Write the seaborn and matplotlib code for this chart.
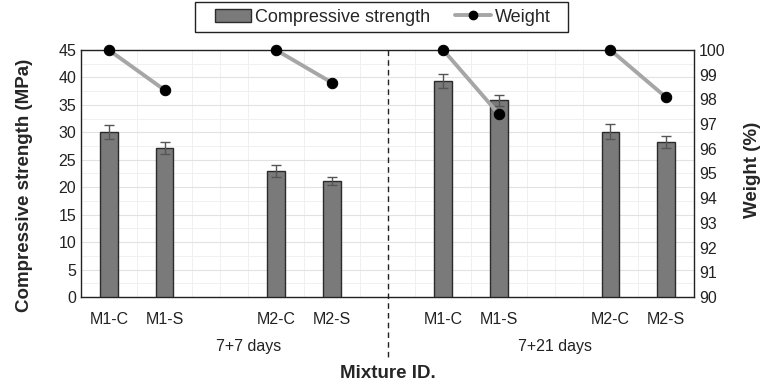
import numpy as np
import pandas as pd
import seaborn as sns
import matplotlib.pyplot as plt
from matplotlib.lines import Line2D
from matplotlib.patches import Patch, Rectangle
from matplotlib.ticker import MultipleLocator

# data
mixtures = ['M1-C', 'M1-S', 'M2-C', 'M2-S', 'M1-C', 'M1-S', 'M2-C', 'M2-S']
slots = [0, 1, 3, 4, 6, 7, 9, 10]
pairs = ['a', 'a', 'b', 'b', 'c', 'c', 'd', 'd']
strength = [30.1, 27.2, 22.9, 21.1, 39.4, 35.8, 30.1, 28.3]
strength_err = [1.3, 1.1, 1.1, 0.7, 1.3, 1.0, 1.4, 1.1]
weight = [100.0, 98.38, 100.0, 98.68, 100.0, 97.4, 100.0, 98.08]
groups = ['7+7 days', '7+21 days']
group_pos = [2.5, 8.0]

df = pd.DataFrame({'slot': slots, 'mix': mixtures, 'pair': pairs,
                   'strength': strength, 'err': strength_err, 'weight': weight})

sns.set_style('white')
plt.rcParams['font.family'] = ['Liberation Sans', 'DejaVu Sans']

fig = plt.figure(figsize=(7.61, 3.87), dpi=100)
ax = fig.add_axes([0.1064, 0.2326, 0.8056, 0.6382])

sns.barplot(data=df, x='slot', y='strength', native_scale=True, width=0.32,
            color='#7a7a7a', edgecolor='#2b2b2b', linewidth=1.0, errorbar=None,
            saturation=1, ax=ax, zorder=3)
ax.errorbar(df['slot'], df['strength'], yerr=df['err'], fmt='none',
            ecolor='#555555', elinewidth=1.0, capsize=3.5, capthick=1.0, zorder=4)

ax.set_xlim(-0.5, 10.5)
ax.set_ylim(0, 45)
ax.yaxis.set_major_locator(MultipleLocator(5))
ax.yaxis.set_minor_locator(MultipleLocator(2.5))
ax.set_xticks(slots)
ax.set_xticklabels(mixtures)
ax.set_xticks(np.arange(-0.5, 10.6, 0.5), minor=True)
ax.grid(which='major', axis='y', color='#e2e2e2', linewidth=0.8, zorder=0)
ax.grid(which='minor', axis='both', color='#f0f0f0', linewidth=0.7, zorder=0)
ax.set_axisbelow(True)
ax.tick_params(axis='both', which='both', length=0, labelsize=11.5, colors='#222222')
ax.tick_params(axis='x', pad=11)
for s in ax.spines.values():
    s.set_color('#222222')
    s.set_linewidth(1.0)

ax.set_ylabel('Compressive strength (MPa)', fontsize=13.5, fontweight='bold')
ax.yaxis.set_label_coords(-0.079, 0.453)
ax.set_xlabel('Mixture ID.', fontsize=13.5, fontweight='bold', labelpad=27)

# group labels and divider
for g, p in zip(groups, group_pos):
    ax.annotate(g, xy=(p, 0), xycoords='data', xytext=(0, -36),
                textcoords='offset points', ha='center', va='center',
                fontsize=11.5, color='#222222', annotation_clip=False)
ax.plot([5, 5], [45, -11.1], linestyle=(0, (4, 3)), color='#222222',
        linewidth=1.0, clip_on=False, zorder=5)

ax2 = ax.twinx()
sns.lineplot(data=df, x='slot', y='weight', units='pair', estimator=None,
             color='#a6a6a6', linewidth=2.8, marker='o', markersize=7.5,
             markerfacecolor='black', markeredgecolor='black', ax=ax2,
             clip_on=False, zorder=6)
ax2.set_ylim(90, 100)
ax2.set_yticks(range(90, 101))
ax2.set_ylabel('Weight (%)', fontsize=13.5, fontweight='bold')
ax2.yaxis.set_label_coords(1.082, 0.514)
ax2.tick_params(axis='y', length=0, labelsize=11.5, colors='#222222')
ax2.set_xlabel('')
for s in ax2.spines.values():
    s.set_visible(False)

handles = [Patch(facecolor='#7a7a7a', edgecolor='#2b2b2b'),
           Line2D([0], [0], color='#a6a6a6', linewidth=2.8, marker='o',
                  markersize=6, markerfacecolor='black', markeredgecolor='black')]
fig.legend(handles, ['Compressive strength', 'Weight'], loc='center',
           bbox_to_anchor=(0.503, 0.956), ncol=2, fontsize=13,
           frameon=False, handlelength=2.0, handletextpad=0.2,
           columnspacing=1.4, borderpad=0.25)
# legend frame is wider than the entries, so draw it by hand
fig.patches.append(Rectangle((195 / 761, 1 - 32 / 387), 373 / 761, 30 / 387,
                             transform=fig.transFigure, fill=False,
                             edgecolor='#222222', linewidth=1.0))

fig.savefig('out.png', dpi=100)
